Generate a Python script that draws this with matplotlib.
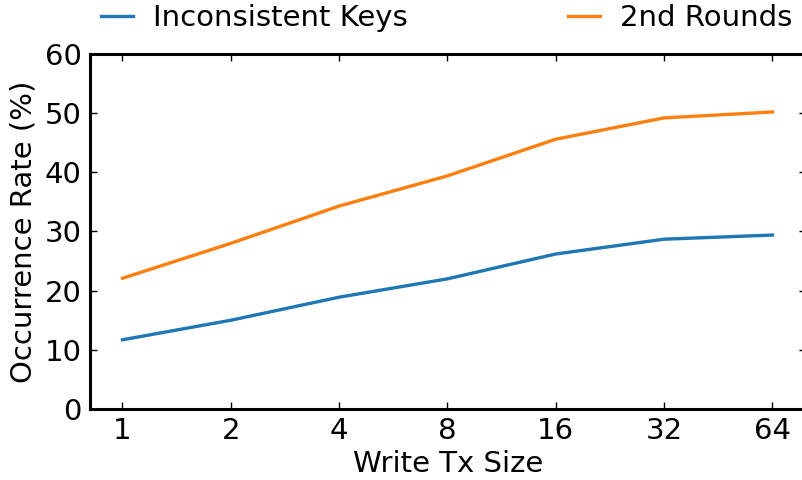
import matplotlib
matplotlib.use("Agg")
import matplotlib.pyplot as plt

tx_sizes = ["1", "2", "4", "8", "16", "32", "64"]
inconsistent_keys = [11.7, 15.0, 18.9, 22.0, 26.2, 28.7, 29.4]
second_rounds = [22.1, 28.0, 34.3, 39.4, 45.6, 49.2, 50.2]

W, H = 802, 480
fig = plt.figure(figsize=(W / 100, H / 100), dpi=100)
ax = fig.add_axes([90 / W, 1 - 409 / H, 716 / W, 355 / H])

x = range(len(tx_sizes))
ax.plot(x, inconsistent_keys, color="#1f77b4", lw=2.4, label="Inconsistent Keys")
ax.plot(x, second_rounds, color="#ff7f0e", lw=2.4, label="2nd Rounds")

ax.set_xlim(-0.3, 6.31)
ax.set_ylim(0, 60)
ax.set_xticks(list(x))
ax.set_xticklabels(tx_sizes)
ax.set_yticks(range(0, 61, 10))
ax.tick_params(direction="in", top=True, right=True, length=5, width=1,
               labelsize=21, pad=6)
for s in ax.spines.values():
    s.set_linewidth(2.2)

ax.set_xlabel("Write Tx Size", fontsize=21, labelpad=3)
ax.set_ylabel("Occurrence Rate (%)", fontsize=21, labelpad=5)

fig.legend(loc="center", bbox_to_anchor=(446.5 / W, 1 - 18 / H), ncol=2,
           frameon=False, fontsize=21, handlelength=1.1, handletextpad=0.69,
           columnspacing=5.5, borderpad=0)

fig.savefig("out.png", dpi=100)
